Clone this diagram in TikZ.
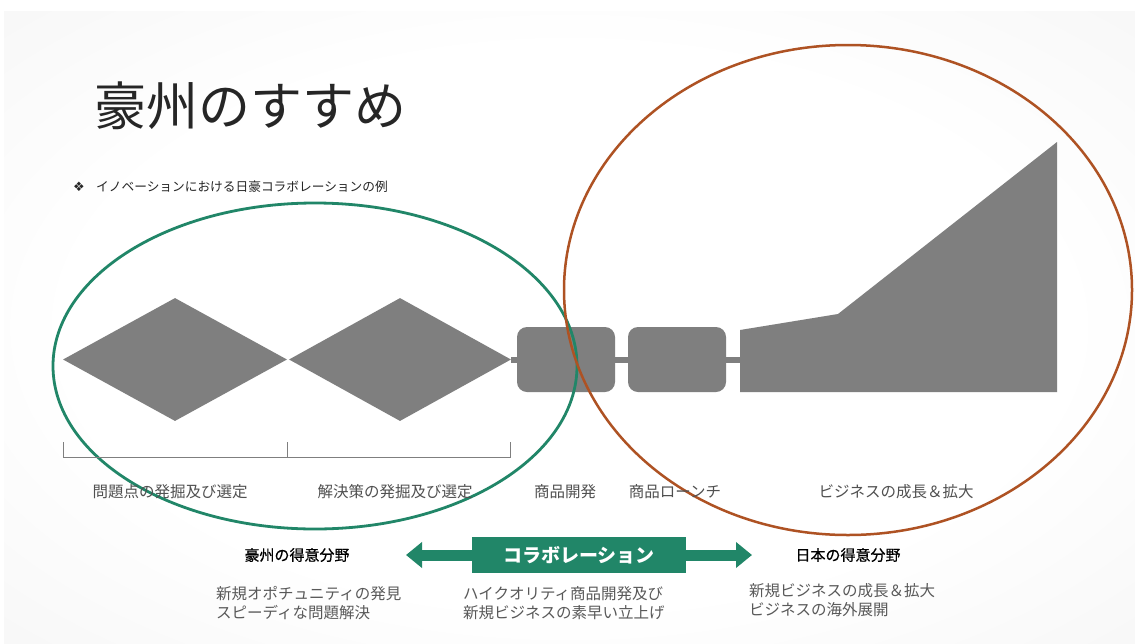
\documentclass[tikz,border=0pt]{standalone}
\usepackage{fontspec}
\usetikzlibrary{shapes.geometric,arrows.meta}
\newfontfamily\jp{Noto Sans CJK JP}
\newfontfamily\jpmed[FakeBold=0.6]{Noto Sans CJK JP}
\newfontfamily\dv{DejaVu Sans}
\definecolor{shapegray}{RGB}{127,127,127}
\definecolor{collab}{RGB}{33,134,104}
\definecolor{brownring}{RGB}{174,82,35}
\definecolor{txtgray}{RGB}{89,89,89}
\definecolor{txtdark}{RGB}{38,38,38}
\definecolor{lblgray}{RGB}{80,80,80}
\pgfdeclareradialshading{slidebg}{\pgfpoint{0bp}{0bp}}{%
  color(0bp)=(white);
  color(22bp)=(white);
  color(50bp)=(black!6);
  color(72bp)=(black!10)}
\begin{document}
\begin{tikzpicture}[x=1pt,y=-1pt,
  shapefill/.style={fill=shapegray,draw=none},
  diamondbox/.style={shapefill,diamond,inner sep=0pt,minimum height=123pt},
  roundbox/.style={shapefill,rectangle,rounded corners=10pt,minimum width=98pt,minimum height=65pt,inner sep=0pt},
  linkbar/.style={draw=shapegray,line width=6pt},
  stagelabel/.style={font=\jp\fontsize{15.5}{16}\selectfont,text=lblgray,inner sep=0pt},
  headlabel/.style={font=\jpmed\fontsize{15}{16}\selectfont,text=black,inner sep=0pt},
  desclabel/.style={font=\jp\fontsize{15.5}{19}\selectfont,text=txtgray,inner sep=0pt,align=left,anchor=north west},
  bigarrow/.style={draw=collab,line width=11pt,-{Triangle[width=25pt,length=16pt]}}
]
\useasboundingbox (0,0) rectangle (1135,643);
\fill[white] (0,0) rectangle (1135,643);
\shade[shading=slidebg] (4,11) rectangle (1135,643);

% title and bullet
\node[anchor=west,inner sep=0pt,font=\jp\fontsize{52}{52}\selectfont,text=txtdark] (title) at (94,106) {豪州のすすめ};
\node[anchor=center,inner sep=0pt,font=\dv\fontsize{13}{13}\selectfont,text=txtdark] (bullet) at (79,187) {❖};
\node[anchor=west,inner sep=0pt,font=\jp\fontsize{12.7}{13}\selectfont,text=txtdark] (subtitle) at (96,187) {イノベーションにおける日豪コラボレーションの例};

% process shapes
\node[diamondbox,minimum width=224pt] (d1) at (175,359.5) {};
\node[diamondbox,minimum width=222pt] (d2) at (400,359.5) {};
\node[roundbox] (r1) at (566,359.5) {};
\node[roundbox] (r2) at (677,359.5) {};
\coordinate (g0) at (740,359.5);
\fill[shapegray] (740,330) -- (838,314) -- (1057,142) -- (1057,392) -- (740,392) -- cycle;
\draw[linkbar] (d2.east) -- (r1.west);
\draw[linkbar] (r1.east) -- (r2.west);
\draw[linkbar] (r2.east) -- (g0);

% rings
\draw[collab,line width=2.8pt] (315,366) ellipse [x radius=262, y radius=163];
\draw[brownring,line width=2.5pt] (848,290) ellipse [x radius=284, y radius=245];

% bracket
\draw[shapegray,line width=0.8pt] (63,442) -- (63,457) -- (510,457) -- (510,442);
\draw[shapegray,line width=0.8pt] (287,442) -- (287,457);

% stage labels
\node[stagelabel] (s1) at (170,492) {問題点の発掘及び選定};
\node[stagelabel] (s2) at (395,492) {解決策の発掘及び選定};
\node[stagelabel] (s3) at (565,492) {商品開発};
\node[stagelabel] (s4) at (675,492) {商品ローンチ};
\node[stagelabel] (s5) at (896,492) {ビジネスの成長＆拡大};

% collaboration
\node[fill=collab,minimum width=214pt,minimum height=36pt,inner sep=0pt,text=white,font=\jp\bfseries\fontsize{19}{19}\selectfont] (collabbox) at (579,555) {コラボレーション};
\coordinate (ltip) at (406,555);
\coordinate (rtip) at (752,555);
\draw[bigarrow] (collabbox.west) -- (ltip);
\draw[bigarrow] (collabbox.east) -- (rtip);

\node[headlabel] (hau) at (297,555) {豪州の得意分野};
\node[headlabel] (hjp) at (848,555) {日本の得意分野};

\node[desclabel] (dau) at (216,586) {新規オポチュニティの発見\\スピーディな問題解決};
\node[desclabel] (dcol) at (463,586) {ハイクオリティ商品開発及び\\新規ビジネスの素早い立上げ};
\node[desclabel] (djp) at (749,583) {新規ビジネスの成長＆拡大\\ビジネスの海外展開};
\end{tikzpicture}
\end{document}
